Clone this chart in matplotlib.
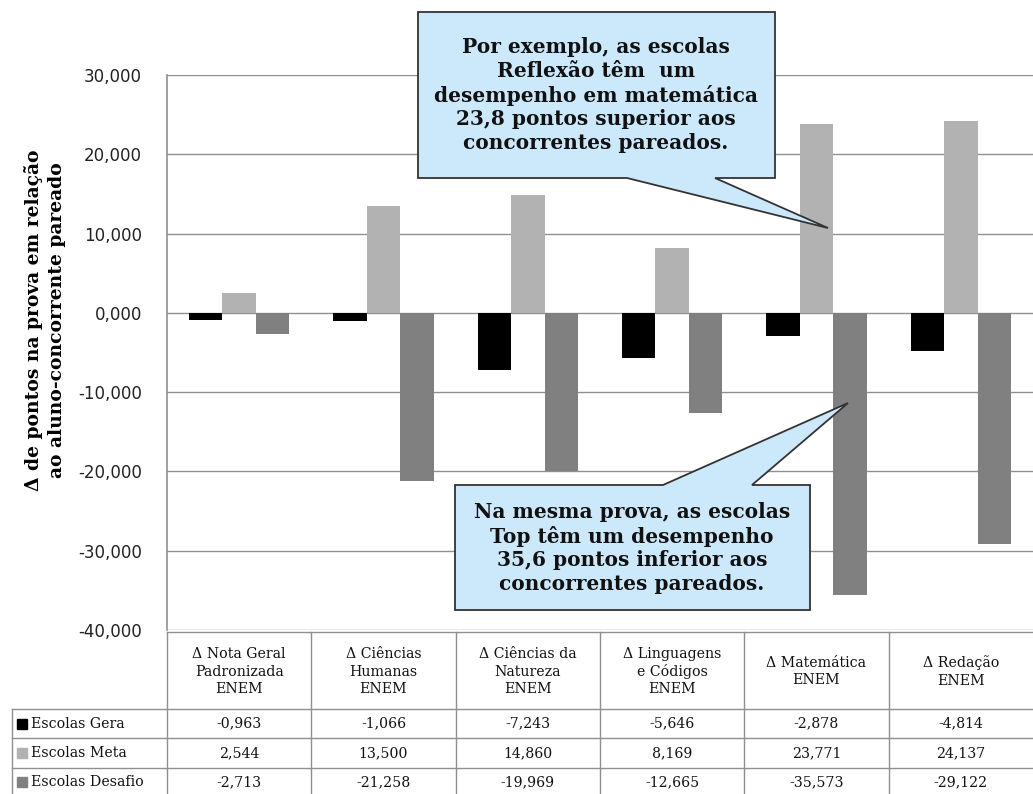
import matplotlib
matplotlib.use("Agg")
import matplotlib.pyplot as plt
from matplotlib.patches import Polygon, Rectangle
from matplotlib.lines import Line2D
from matplotlib.transforms import blended_transform_factory
import numpy as np

categories = ["\u0394 Nota Geral\nPadronizada\nENEM", "\u0394 Ci\u00eancias\nHumanas\nENEM",
              "\u0394 Ci\u00eancias da\nNatureza\nENEM", "\u0394 Linguagens\ne C\u00f3digos\nENEM",
              "\u0394 Matem\u00e1tica\nENEM", "\u0394 Reda\u00e7\u00e3o\nENEM"]
series_names = ["Escolas Gera", "Escolas Meta", "Escolas Desafio"]
gera = [-0.963, -1.066, -7.243, -5.646, -2.878, -4.814]
meta = [2.544, 13.500, 14.860, 8.169, 23.771, 24.137]
desafio = [-2.713, -21.258, -19.969, -12.665, -35.573, -29.122]
yticks = [-40, -30, -20, -10, 0, 10, 20, 30]
colors = ["#000000", "#b2b2b2", "#808080"]
callout1 = "Por exemplo, as escolas\nReflex\u00e3o t\u00eam  um\ndesempenho em matem\u00e1tica\n23,8 pontos superior aos\nconcorrentes pareados."
callout2 = "Na mesma prova, as escolas\nTop t\u00eam um desempenho\n35,6 pontos inferior aos\nconcorrentes pareados."
ylabel = "\u0394 de pontos na prova em rela\u00e7\u00e3o\nao aluno-concorrente pareado"

W, H = 1033, 794
fig = plt.figure(figsize=(W / 100, H / 100), dpi=100)
fig.patch.set_facecolor("white")

def fx(x):
    return x / W

def fy(y):
    return 1 - y / H

ax = fig.add_axes([fx(167), fy(630), fx(1033) - fx(167), fy(75) - fy(630)])
n = len(categories)
x = np.arange(n)
bw = 0.232
for i, (vals, c) in enumerate(zip([gera, meta, desafio], colors)):
    ax.bar(x + (i - 1) * bw, vals, width=bw, color=c, zorder=3)

ax.set_xlim(-0.5, n - 0.5)
ax.set_ylim(-40, 30)
ax.set_yticks(yticks)
ax.set_yticklabels([f"{v:.3f}".replace(".", ",") for v in yticks],
                   fontsize=12, fontfamily="DejaVu Sans", color="#222222")
ax.tick_params(axis="y", length=0, pad=18)
ax.set_xticks([])
ax.yaxis.grid(True, color="#8f8f8f", linewidth=1.0, zorder=0)
for s in ["top", "right", "bottom"]:
    ax.spines[s].set_visible(False)
ax.spines["left"].set_color("#8f8f8f")
ax.spines["left"].set_linewidth(1.2)

fig.text(fx(45), fy(320), ylabel, rotation=90, ha="center", va="center",
         fontsize=13.5, fontweight="bold", fontfamily="DejaVu Serif",
         linespacing=1.3)

# data table below the axes
trans = blended_transform_factory(ax.transData, fig.transFigure)
ftr = fig.transFigure
lc = "#8f8f8f"
y_head_top, y_head_bot = 632, 709
row_h = 29.3
row_tops = [y_head_bot + k * row_h for k in range(4)]

fig.add_artist(Line2D([fx(167), fx(1033)], [fy(y_head_top), fy(y_head_top)], color=lc, lw=1.0, transform=ftr))
for yy in row_tops[:3]:
    fig.add_artist(Line2D([fx(12), fx(1033)], [fy(yy), fy(yy)], color=lc, lw=1.0, transform=ftr))
for b in np.arange(-0.5, n - 1, 1.0):
    fig.add_artist(Line2D([b, b], [fy(y_head_top), fy(row_tops[-1])], color=lc, lw=1.0, transform=trans))
fig.add_artist(Line2D([fx(12), fx(12)], [fy(row_tops[0]), fy(row_tops[-1])], color=lc, lw=1.0, transform=ftr))

for i, cat in enumerate(categories):
    fig.text(i, fy((y_head_top + y_head_bot) / 2 + 1), cat, transform=trans, ha="center", va="center",
             fontsize=10.2, fontfamily="DejaVu Serif", linespacing=1.3, color="#111111")

for r, (name, vals, c) in enumerate(zip(series_names, [gera, meta, desafio], colors)):
    yc = row_tops[r] + row_h / 2
    fig.add_artist(Rectangle((fx(17), fy(yc + 5)), fx(10), fy(0) - fy(10), color=c, transform=ftr))
    fig.text(fx(31), fy(yc), name, ha="left", va="center", fontsize=10.2,
             fontfamily="DejaVu Serif", color="#111111")
    for i, v in enumerate(vals):
        fig.text(i, fy(yc), f"{v:.3f}".replace(".", ","), transform=trans, ha="center", va="center",
                 fontsize=10.2, fontfamily="DejaVu Serif", color="#111111")

# callouts
fill = "#cce9fb"
edge = "#333333"
p1 = [(418, 12), (775, 12), (775, 178), (715, 178), (828, 228), (627, 178), (418, 178)]
p2 = [(455, 485), (663, 485), (848, 403), (752, 485), (810, 485), (810, 610), (455, 610)]
for pts in (p1, p2):
    fig.add_artist(Polygon([(fx(a), fy(b)) for a, b in pts], closed=True, facecolor=fill,
                           edgecolor=edge, lw=1.3, transform=ftr, zorder=10))
fig.text(fx(596), fy(95), callout1, ha="center", va="center", fontsize=14.5, fontweight="bold",
         fontfamily="DejaVu Serif", linespacing=1.22, zorder=11, color="#111111")
fig.text(fx(632), fy(548), callout2, ha="center", va="center", fontsize=14.5, fontweight="bold",
         fontfamily="DejaVu Serif", linespacing=1.22, zorder=11, color="#111111")

fig.savefig("out.png", dpi=100, facecolor="white")
